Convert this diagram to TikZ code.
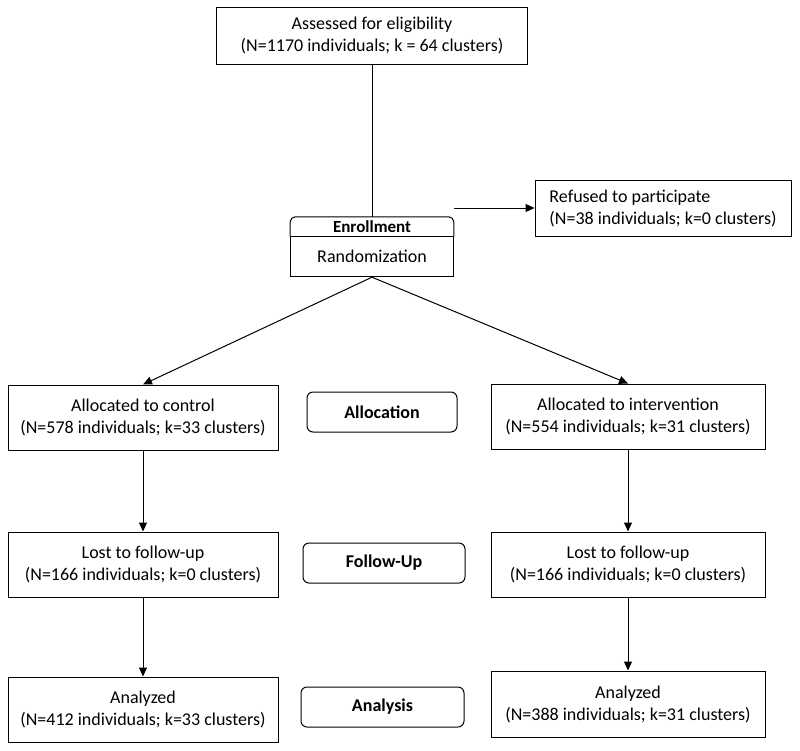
\documentclass[tikz,border=0pt]{standalone}
\usepackage{fontspec}
\setmainfont{Carlito}
\usepackage{tikz}
\usetikzlibrary{arrows.meta}

\tikzset{
	stagebox/.style={draw, line width=1pt, align=center, inner sep=2pt, font=\fontsize{18}{22}\selectfont},
	phasebox/.style={draw, line width=1pt, rounded corners=6pt, minimum height=40pt, font=\fontsize{18}{22}\selectfont\bfseries},
	flowarrow/.style={line width=1pt, -{Triangle[length=9pt,width=8pt]}}
}

\begin{document}
\begin{tikzpicture}[x=1pt,y=-1pt]
				\useasboundingbox (0,0) rectangle (800,750);
	
				\node[stagebox, minimum width=311pt, minimum height=57pt] (assess) at (372,35.5) {Assessed for eligibility\\(N=1170 individuals; k = 64 clusters)};
	
				\node[minimum width=163pt, minimum height=19pt, text height=12pt, text depth=1pt, inner sep=0pt, font=\fontsize{17}{21}\selectfont\bfseries] (enrollhead) at (372,226.5) {Enrollment};
				\node[stagebox, minimum width=163pt, minimum height=40pt, anchor=north] (randomize) at (enrollhead.south) {Randomization};
				\draw[line width=1pt, rounded corners=5pt] (randomize.north west) -- (enrollhead.north west) -- (enrollhead.north east) -- (randomize.north east);
	
				\node[stagebox, align=left, minimum width=256pt, minimum height=56pt] (refused) at (663,208) {Refused to participate\\(N=38 individuals; k=0 clusters)};
				\coordinate (refusedstart) at (454,208);
	
				\node[stagebox, minimum width=270pt, minimum height=65pt] (control) at (143,417.5) {Allocated to control\\(N=578 individuals; k=33 clusters)};
				\node[stagebox, minimum width=274pt, minimum height=65pt] (intervention) at (628,416.5) {Allocated to intervention\\(N=554 individuals; k=31 clusters)};
				\node[phasebox, minimum width=150pt] (allocation) at (382,412) {Allocation};
	
				\node[stagebox, minimum width=270pt, minimum height=65pt] (lostcontrol) at (143,564.5) {Lost to follow-up\\(N=166 individuals; k=0 clusters)};
				\node[stagebox, minimum width=274pt, minimum height=65pt] (lostinterv) at (628,564.5) {Lost to follow-up\\(N=166 individuals; k=0 clusters)};
				\node[phasebox, minimum width=162pt] (followup) at (384,563) {Follow-Up};
	
				\node[stagebox, minimum width=270pt, minimum height=65pt] (anacontrol) at (143,709.5) {Analyzed\\(N=412 individuals; k=33 clusters)};
				\node[stagebox, minimum width=274pt, minimum height=66pt] (anainterv) at (628,704) {Analyzed\\(N=388 individuals; k=31 clusters)};
				\node[phasebox, minimum width=163pt] (analysis) at (382.5,707) {Analysis};
	
				\draw[line width=1pt] (assess) -- (enrollhead.north);
				\draw[flowarrow] (refusedstart) -- (refused.west);
				\draw[flowarrow] (randomize.south) -- (control.north);
				\draw[flowarrow] (randomize.south) -- (intervention.north);
				\draw[flowarrow] (control) -- (lostcontrol);
				\draw[flowarrow] (intervention) -- (lostinterv);
				\draw[flowarrow] (lostcontrol) -- (anacontrol);
				\draw[flowarrow] (lostinterv) -- (anainterv);
			\end{tikzpicture}
\end{document}
